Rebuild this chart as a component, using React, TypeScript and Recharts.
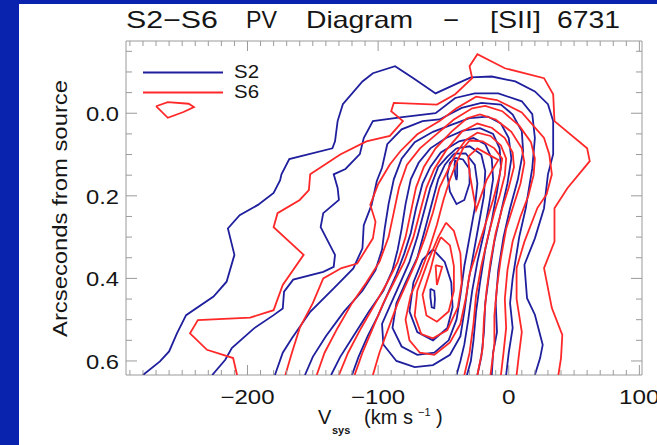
import { ScatterChart, Scatter, XAxis, YAxis } from 'recharts';

// contour vertices: [velocity (km/s), offset from source (arcsec)]
type Pt = [number, number];

// ---- S2 contours, outermost level first ----
const S2_1: Pt[] = [
  [-280, 0.634], [-267, 0.601], [-260, 0.577], [-254, 0.533], [-247, 0.489], [-226, 0.444],
  [-216, 0.408], [-210, 0.343], [-215, 0.279], [-206, 0.247], [-192, 0.222], [-180, 0.193],
  [-175, 0.162], [-174, 0.148], [-168, 0.111], [-159, 0.104], [-135, 0.085], [-133, 0.068],
  [-131, 0.019], [-127, -0.022], [-112, -0.077], [-104, -0.097], [-87, -0.114], [-73, -0.085],
  [-56, -0.048], [-41, -0.07], [-29, -0.087], [-13, -0.089], [5, -0.077], [20, -0.053],
  [30, -0.022], [34, 0.019], [34, 0.099], [30, 0.148], [27, 0.23], [20, 0.303], [12, 0.367],
  [14, 0.448], [20, 0.488], [26, 0.561], [24, 0.593], [20, 0.634],
];
const S2_2: Pt[] = [
  [-227, 0.634], [-217, 0.597], [-212, 0.569], [-195, 0.521], [-180, 0.489], [-173, 0.473],
  [-172, 0.432], [-165, 0.403], [-142, 0.384], [-134, 0.372], [-133, 0.343], [-144, 0.276],
  [-142, 0.242], [-130, 0.21], [-131, 0.181], [-134, 0.148], [-125, 0.135], [-114, 0.099],
  [-111, 0.06], [-104, 0.019], [-83, 0.01], [-56, 0.0], [-41, -0.037], [-26, -0.048],
  [-8, -0.048], [10, -0.029], [18, 0.002], [20, 0.06], [18, 0.133], [13, 0.23], [8, 0.3],
  [3, 0.4], [1, 0.46], [3, 0.52], [0, 0.58], [-2, 0.634],
];
const S2_3: Pt[] = [
  [-179, 0.634], [-173, 0.58], [-166, 0.545], [-152, 0.481], [-134, 0.424], [-119, 0.376],
  [-112, 0.327], [-111, 0.271], [-105, 0.222], [-101, 0.164], [-97, 0.132], [-93, 0.075],
  [-82, 0.039], [-66, 0.019], [-53, 0.015], [-36, -0.013], [-21, -0.025], [-6, -0.021],
  [3, 0.003], [10, 0.044], [11, 0.092], [7, 0.16], [1, 0.23], [-4, 0.3], [-8, 0.38],
  [-10, 0.46], [-9, 0.53], [-12, 0.58], [-13, 0.634],
];
const S2_4: Pt[] = [
  [-156, 0.634], [-150, 0.59], [-140, 0.54], [-126, 0.48], [-112, 0.43], [-102, 0.38],
  [-97, 0.33], [-95, 0.28], [-92, 0.22], [-88, 0.16], [-82, 0.11], [-72, 0.07], [-58, 0.045],
  [-44, 0.028], [-30, 0.012], [-16, 0.008], [-6, 0.025], [0, 0.06], [2, 0.11], [-1, 0.17],
  [-6, 0.24], [-11, 0.31], [-15, 0.39], [-18, 0.46], [-19, 0.53], [-21, 0.59], [-24, 0.634],
];
const S2_5: Pt[] = [
  [-136, 0.634], [-129, 0.59], [-119, 0.54], [-107, 0.48], [-96, 0.43], [-89, 0.38],
  [-85, 0.33], [-82, 0.28], [-79, 0.22], [-75, 0.16], [-69, 0.12], [-60, 0.085], [-48, 0.06],
  [-35, 0.042], [-22, 0.036], [-12, 0.05], [-7, 0.085], [-6, 0.13], [-9, 0.19], [-13, 0.26],
  [-18, 0.33], [-22, 0.41], [-25, 0.48], [-27, 0.55], [-29, 0.6], [-32, 0.634],
];
const S2_6: Pt[] = [
  [-120, 0.634], [-115, 0.59], [-108, 0.54], [-100, 0.49], [-93, 0.44], [-86, 0.39],
  [-80, 0.34], [-75, 0.29], [-71, 0.23], [-66, 0.17], [-60, 0.13], [-52, 0.095], [-38, 0.068],
  [-27, 0.06], [-18, 0.075], [-13, 0.11], [-12, 0.16], [-15, 0.22], [-19, 0.29], [-24, 0.36],
  [-28, 0.43], [-31, 0.5], [-34, 0.56], [-37, 0.6], [-40, 0.634],
];
const S2_7: Pt[] = [
  [-40, 0.085], [-30, 0.08], [-21, 0.1], [-18, 0.14], [-19, 0.2], [-23, 0.27], [-27, 0.34],
  [-31, 0.41], [-34, 0.48], [-37, 0.54], [-45, 0.585], [-58, 0.61], [-72, 0.615], [-86, 0.6],
  [-96, 0.56], [-97, 0.51], [-90, 0.46], [-83, 0.41], [-76, 0.36], [-70, 0.3], [-65, 0.24],
  [-60, 0.18], [-54, 0.13], [-47, 0.105], [-40, 0.085],
];
const S2_8: Pt[] = [
  [-42, 0.098], [-33, 0.097], [-26, 0.125], [-24, 0.17], [-26, 0.23], [-30, 0.3], [-34, 0.37],
  [-37, 0.44], [-40, 0.5], [-46, 0.55], [-57, 0.58], [-70, 0.585], [-82, 0.565], [-89, 0.52],
  [-86, 0.46], [-79, 0.41], [-70, 0.35], [-64, 0.28], [-59, 0.22], [-54, 0.16], [-49, 0.125],
  [-42, 0.098],
];
const S2_9: Pt[] = [
  [-58, 0.33], [-49, 0.36], [-44, 0.41], [-43, 0.47], [-47, 0.52], [-58, 0.55], [-70, 0.53],
  [-76, 0.48], [-73, 0.41], [-66, 0.355], [-58, 0.33],
];
const S2_9B: Pt[] = [
  [-41, 0.108], [-35, 0.112], [-30, 0.135], [-30, 0.17], [-34, 0.21], [-40, 0.22], [-45, 0.19],
  [-47, 0.15], [-45, 0.12], [-41, 0.108],
];
const S2_10: Pt[] = [
  [-60, 0.425], [-57, 0.43], [-56.5, 0.45], [-57, 0.472], [-59, 0.47], [-60, 0.445], [-60, 0.425],
];
const S2_10B: Pt[] = [
  [-41, 0.113], [-39.5, 0.12], [-39.5, 0.15], [-40, 0.162], [-41, 0.15], [-41.5, 0.125], [-41, 0.113],
];

// ---- S6 contours, outermost level first ----
const S6_1: Pt[] = [
  [-208, 0.634], [-211, 0.593], [-231, 0.573], [-244, 0.533], [-238, 0.501], [-198, 0.495],
  [-180, 0.477], [-173, 0.416], [-157, 0.343], [-180, 0.276], [-177, 0.242], [-160, 0.21],
  [-153, 0.186], [-152, 0.148], [-129, 0.1], [-109, 0.068], [-91, 0.055], [-81, 0.019],
  [-90, -0.005], [-88, -0.025], [-55, -0.021], [-41, -0.046], [-28, -0.085], [-30, -0.114],
  [-24, -0.143], [-3, -0.109], [27, -0.085], [34, -0.046], [35, 0.019], [60, 0.085],
  [62, 0.116], [45, 0.181], [35, 0.23], [35, 0.311], [27, 0.375], [33, 0.472], [41, 0.537],
  [40, 0.593], [38, 0.634],
];
const S6_ISLAND: Pt[] = [
  [-270, -0.017], [-261, -0.027], [-245, -0.023], [-241, -0.015], [-249, -0.003], [-261, 0.011],
  [-270, -0.017],
];
const S6_2: Pt[] = [
  [-171, 0.634], [-166, 0.58], [-160, 0.52], [-150, 0.46], [-142, 0.4], [-128, 0.375],
  [-116, 0.364], [-104, 0.303], [-102, 0.263], [-106, 0.222], [-100, 0.172], [-91, 0.124],
  [-83, 0.092], [-70, 0.051], [-53, 0.019], [-40, -0.012], [-25, -0.04], [-9, -0.032],
  [10, -0.002], [27, 0.06], [31, 0.099], [33, 0.148], [29, 0.196], [22, 0.229], [12, 0.311],
  [6, 0.375], [6, 0.45], [10, 0.53], [8, 0.58], [6, 0.634],
];
const S6_3: Pt[] = [
  [-147, 0.634], [-141, 0.58], [-131, 0.52], [-120, 0.46], [-109, 0.41], [-99, 0.36],
  [-92, 0.3], [-88, 0.24], [-84, 0.18], [-78, 0.125], [-68, 0.085], [-55, 0.05], [-42, 0.015],
  [-28, -0.012], [-18, -0.018], [-5, -0.005], [8, 0.03], [17, 0.07], [20, 0.11], [19, 0.15],
  [15, 0.2], [9, 0.25], [3, 0.31], [-1, 0.38], [-3, 0.45], [-2, 0.52], [-4, 0.58], [-6, 0.634],
];
const S6_4: Pt[] = [
  [-130, 0.634], [-123, 0.58], [-113, 0.52], [-102, 0.46], [-93, 0.41], [-85, 0.36],
  [-79, 0.3], [-75, 0.24], [-71, 0.18], [-65, 0.13], [-56, 0.085], [-44, 0.045], [-32, 0.012],
  [-22, 0.003], [-10, 0.015], [2, 0.045], [10, 0.085], [12, 0.12], [9, 0.17], [4, 0.22],
  [-2, 0.28], [-6, 0.35], [-9, 0.42], [-11, 0.49], [-11, 0.56], [-14, 0.634],
];
const S6_5: Pt[] = [
  [-118, 0.634], [-112, 0.58], [-104, 0.52], [-96, 0.46], [-88, 0.41], [-80, 0.36],
  [-73, 0.3], [-68, 0.24], [-63, 0.18], [-57, 0.135], [-48, 0.09], [-36, 0.045], [-24, 0.025],
  [-13, 0.035], [-3, 0.06], [3, 0.095], [4, 0.13], [0, 0.18], [-5, 0.23], [-10, 0.29],
  [-14, 0.36], [-17, 0.43], [-19, 0.5], [-20, 0.57], [-24, 0.634],
];
const S6_6: Pt[] = [
  [-104, 0.634], [-99, 0.58], [-92, 0.52], [-85, 0.46], [-78, 0.41], [-71, 0.36], [-64, 0.3],
  [-58, 0.24], [-53, 0.18], [-47, 0.14], [-41, 0.1], [-33, 0.065], [-24, 0.047], [-14, 0.055],
  [-6, 0.078], [-2, 0.11], [-3, 0.15], [-7, 0.2], [-11, 0.24], [-16, 0.3], [-21, 0.37],
  [-25, 0.44], [-27, 0.51], [-30, 0.58], [-34, 0.634],
];
const S6_7: Pt[] = [
  [-30, 0.066], [-20, 0.068], [-11, 0.085], [-5, 0.11], [-7, 0.15], [-12, 0.21], [-18, 0.27],
  [-24, 0.33], [-30, 0.39], [-33, 0.45], [-37, 0.51], [-45, 0.555], [-57, 0.585], [-68, 0.58],
  [-76, 0.55], [-79, 0.5], [-75, 0.44], [-68, 0.39], [-61, 0.33], [-55, 0.27], [-50, 0.21],
  [-45, 0.16], [-40, 0.12], [-35, 0.085], [-30, 0.066],
];
const S6_8: Pt[] = [
  [-48, 0.265], [-42, 0.285], [-37, 0.34], [-36, 0.41], [-39, 0.47], [-47, 0.525], [-58, 0.545],
  [-67, 0.535], [-72, 0.49], [-70, 0.43], [-62, 0.36], [-54, 0.3], [-48, 0.265],
];
const S6_9: Pt[] = [
  [-52, 0.3], [-45, 0.32], [-42, 0.37], [-42, 0.43], [-46, 0.48], [-55, 0.505], [-63, 0.49],
  [-66, 0.44], [-60, 0.38], [-56, 0.33], [-52, 0.3],
];
const S6_10: Pt[] = [[-56, 0.368], [-51, 0.372], [-55, 0.416], [-56, 0.368]];
const S6_10B: Pt[] = [
  [-31, 0.105], [-24, 0.085], [-8, 0.113], [-17, 0.162], [-25, 0.234], [-30, 0.145], [-31, 0.105],
];

const S2_LEVELS = [S2_1, S2_2, S2_3, S2_4, S2_5, S2_6, S2_7, S2_8, S2_9, S2_9B, S2_10, S2_10B];
const S6_LEVELS = [S6_1, S6_ISLAND, S6_2, S6_3, S6_4, S6_5, S6_6, S6_7, S6_8, S6_9, S6_10, S6_10B];

const X_DOMAIN: [number, number] = [-293, 102];
const Y_DOMAIN: [number, number] = [-0.175, 0.634];
const X_LABELED = [-200, -100, 0, 100];
const Y_LABELED = [0, 0.2, 0.4, 0.6];

// minor ticks every 10 km/s and every 0.05"
const X_TICKS: number[] = [];
for (let v = -290; v <= 100; v += 10) X_TICKS.push(v);
const Y_TICKS: number[] = [];
for (let i = -3; i <= 12; i++) Y_TICKS.push(Math.round(i * 5) / 100);

const BLUE = '#1f1f9e';
const RED = '#ff2828';
const AXIS = '#9a9a9a';
const INK = '#151515';
const FONT = "'Liberation Sans', Arial, sans-serif";
const LINE_W = 1.8;

const toRows = (pts: Pt[]) => pts.map(([v, a]) => ({ v, a }));
const NoDot = () => null;
const labeled = (list: number[], value: number) => list.some(t => Math.abs(t - value) < 1e-6);
const fmtV = (v: number) => (v < 0 ? `\u2212${Math.abs(v)}` : `${v}`);

function BottomTick({ x, y, payload }: any) {
  const major = labeled(X_LABELED, payload.value);
  const label = fmtV(payload.value);
  return (
    <g>
      <line x1={x} y1={y} x2={x} y2={y - (major ? 10 : 5)} stroke={AXIS} />
      {major && (
        <text
          x={x} y={y + 29} textAnchor="middle" fontFamily={FONT} fontSize={20} fill={INK}
          textLength={label.length * 13.5} lengthAdjust="spacingAndGlyphs"
        >
          {label}
        </text>
      )}
    </g>
  );
}

function TopTick({ x, y, payload }: any) {
  const major = labeled(X_LABELED, payload.value);
  return <line x1={x} y1={y} x2={x} y2={y + (major ? 10 : 5)} stroke={AXIS} />;
}

function LeftTick({ x, y, payload }: any) {
  const major = labeled(Y_LABELED, payload.value);
  return (
    <g>
      <line x1={x} y1={y} x2={x + (major ? 11 : 6)} y2={y} stroke={AXIS} />
      {major && (
        <text
          x={x - 7} y={y + 8} textAnchor="end" fontFamily={FONT} fontSize={20} fill={INK}
          textLength={33} lengthAdjust="spacingAndGlyphs"
        >
          {payload.value.toFixed(1)}
        </text>
      )}
    </g>
  );
}

function RightTick({ x, y, payload }: any) {
  const major = labeled(Y_LABELED, payload.value);
  return <line x1={x} y1={y} x2={x - (major ? 11 : 6)} y2={y} stroke={AXIS} />;
}

export default function App() {
  return (
    <div style={{ position: 'absolute', left: 0, top: 0, width: 657, height: 445, background: '#0a23ae', overflow: 'hidden' }}>
      <div style={{ position: 'absolute', left: 19, top: 4, width: 638, height: 441, background: '#fff' }} />
      <div style={{ position: 'absolute', left: 0, top: 0 }}>
        <ScatterChart width={657} height={445} margin={{ top: 40, right: 14, bottom: 30, left: 66 }}>
          <XAxis
            xAxisId="b" type="number" dataKey="v" domain={X_DOMAIN} ticks={X_TICKS} interval={0}
            allowDataOverflow height={40} tickSize={0} tickMargin={0} tickLine={false}
            axisLine={{ stroke: AXIS }} tick={(p: any) => <BottomTick {...p} />}
          />
          <XAxis
            xAxisId="t" orientation="top" type="number" dataKey="v" domain={X_DOMAIN} ticks={X_TICKS}
            interval={0} allowDataOverflow height={1} tickSize={0} tickMargin={0} tickLine={false}
            axisLine={{ stroke: AXIS }} tick={(p: any) => <TopTick {...p} />}
          />
          <YAxis
            yAxisId="l" type="number" dataKey="a" domain={Y_DOMAIN} reversed ticks={Y_TICKS} interval={0}
            allowDataOverflow width={60} tickSize={0} tickMargin={0} tickLine={false}
            axisLine={{ stroke: AXIS }} tick={(p: any) => <LeftTick {...p} />}
          />
          <YAxis
            yAxisId="r" orientation="right" type="number" dataKey="a" domain={Y_DOMAIN} reversed
            ticks={Y_TICKS} interval={0} allowDataOverflow width={1} tickSize={0} tickMargin={0}
            tickLine={false} axisLine={{ stroke: AXIS }} tick={(p: any) => <RightTick {...p} />}
          />
          {S2_LEVELS.map((c, i) => (
            <Scatter
              key={`s2-${i}`} xAxisId="b" yAxisId="l" data={toRows(c)} fill={BLUE} shape={NoDot}
              line={{ stroke: BLUE, strokeWidth: LINE_W }} isAnimationActive={false}
            />
          ))}
          {S6_LEVELS.map((c, i) => (
            <Scatter
              key={`s6-${i}`} xAxisId="b" yAxisId="l" data={toRows(c)} fill={RED} shape={NoDot}
              line={{ stroke: RED, strokeWidth: LINE_W }} isAnimationActive={false}
            />
          ))}
        </ScatterChart>
      </div>
      <svg width={657} height={445} style={{ position: 'absolute', left: 0, top: 0, pointerEvents: 'none' }}>
        <g fontFamily={FONT} fill={INK} fontSize={24}>
          <text x={126} y={28} textLength={92} lengthAdjust="spacingAndGlyphs">S2{'\u2212'}S6</text>
          <text x={246} y={28} textLength={31} lengthAdjust="spacingAndGlyphs">PV</text>
          <text x={306} y={28} textLength={107} lengthAdjust="spacingAndGlyphs">Diagram</text>
          <text x={443} y={28} textLength={16} lengthAdjust="spacingAndGlyphs">{'\u2212'}</text>
          <text x={490} y={28} textLength={51} lengthAdjust="spacingAndGlyphs">[SII]</text>
          <text x={557} y={28} textLength={63} lengthAdjust="spacingAndGlyphs">6731</text>
        </g>
        <line x1={143} y1={72.5} x2={223} y2={72.5} stroke={BLUE} strokeWidth={LINE_W} />
        <line x1={143} y1={92.5} x2={223} y2={92.5} stroke={RED} strokeWidth={LINE_W} />
        <text x={234} y={78} fontFamily={FONT} fontSize={19} fill={INK} textLength={25} lengthAdjust="spacingAndGlyphs">S2</text>
        <text x={234} y={98} fontFamily={FONT} fontSize={19} fill={INK} textLength={25} lengthAdjust="spacingAndGlyphs">S6</text>
        <text
          transform="translate(67,208.5) rotate(-90)" textAnchor="middle" fontFamily={FONT}
          fontSize={21} fill={INK} textLength={257} lengthAdjust="spacingAndGlyphs"
        >
          Arcseconds from source
        </text>
        <text y={424} fontFamily={FONT} fontSize={20} fill={INK}>
          <tspan x={318}>V</tspan>
          <tspan x={332} dy={10} fontSize={11} fontWeight="bold">sys</tspan>
          <tspan x={364} dy={-10}>(km s</tspan>
          <tspan x={418} dy={-8} fontSize={11}>{'\u2212'}1</tspan>
          <tspan x={436} dy={8}>)</tspan>
        </text>
      </svg>
    </div>
  );
}
